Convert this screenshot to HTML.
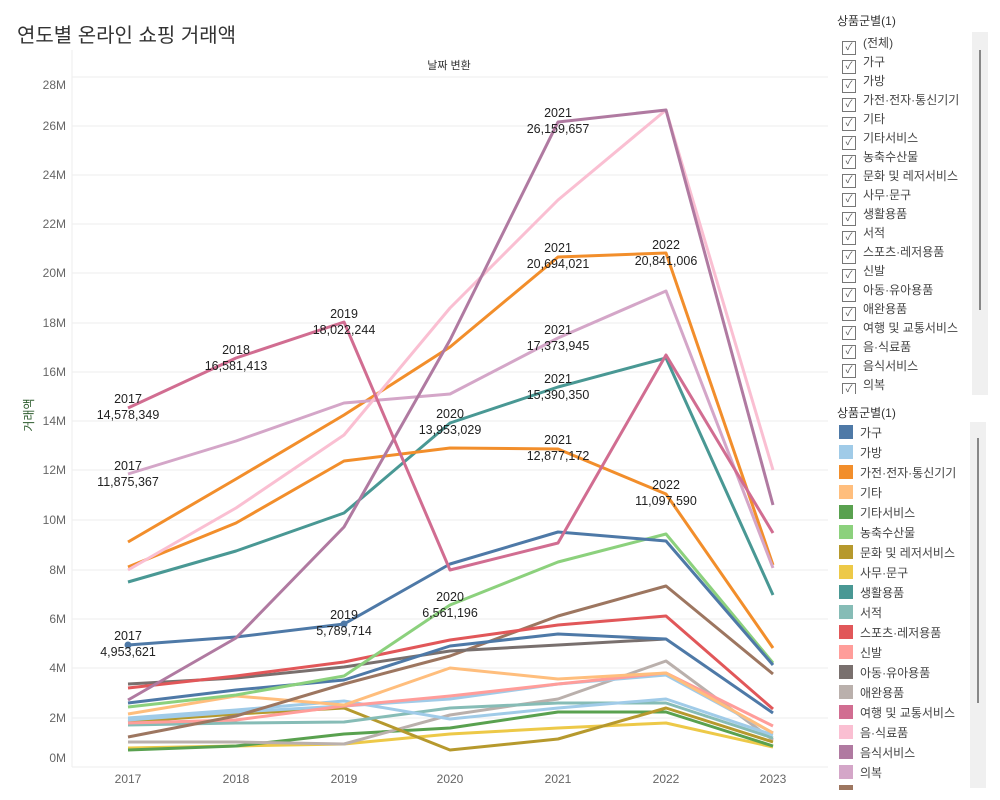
<!DOCTYPE html><html><head><meta charset="utf-8"><style>
body{margin:0;width:1000px;height:800px;background:#fff;font-family:"Liberation Sans","Noto Sans CJK KR",sans-serif;overflow:hidden;position:relative}
.t{position:absolute}
.lg{position:absolute;font-size:12px;color:#333}
.ci{height:19px;line-height:19px;font-size:12px;color:#444;white-space:nowrap}
.ci span{display:inline-block;width:12px;height:12px;border:1px solid #777;vertical-align:-3px;margin-right:7px;font-size:10px;line-height:12px;text-align:center;color:#555}
.si{height:20px;line-height:14px;font-size:12px;color:#444;white-space:nowrap}
.si span{display:inline-block;width:14px;height:14px;vertical-align:-2px;margin-right:7px}
</style></head><body>
<div class="t" style="left:17px;top:19px;font-size:20px;color:#333">연도별 온라인 쇼핑 거래액</div>
<svg class="t" style="left:0;top:0" width="830" height="800" font-family="Liberation Sans, Noto Sans CJK KR, sans-serif">
<text x="449" y="69" font-size="11" text-anchor="middle" fill="#333">날짜 변환</text>
<text transform="translate(33,415) rotate(-90)" font-size="12" text-anchor="middle" fill="#2c5b2c">거래액</text>
<g stroke="#eee" stroke-width="1">
<line x1="72" y1="77" x2="828" y2="77"/><line x1="72" y1="126" x2="828" y2="126"/><line x1="72" y1="175" x2="828" y2="175"/><line x1="72" y1="224" x2="828" y2="224"/><line x1="72" y1="273" x2="828" y2="273"/><line x1="72" y1="323" x2="828" y2="323"/><line x1="72" y1="372" x2="828" y2="372"/><line x1="72" y1="421" x2="828" y2="421"/><line x1="72" y1="470" x2="828" y2="470"/><line x1="72" y1="520" x2="828" y2="520"/><line x1="72" y1="570" x2="828" y2="570"/><line x1="72" y1="619" x2="828" y2="619"/><line x1="72" y1="668" x2="828" y2="668"/><line x1="72" y1="718" x2="828" y2="718"/><line x1="72" y1="767" x2="828" y2="767"/>
<line x1="72" y1="50" x2="72" y2="767"/>
</g>
<g font-size="12" fill="#666" text-anchor="end">
<text x="66" y="89">28M</text><text x="66" y="130">26M</text><text x="66" y="179">24M</text><text x="66" y="228">22M</text><text x="66" y="277">20M</text><text x="66" y="327">18M</text><text x="66" y="376">16M</text><text x="66" y="425">14M</text><text x="66" y="474">12M</text><text x="66" y="524">10M</text><text x="66" y="574">8M</text><text x="66" y="623">6M</text><text x="66" y="672">4M</text><text x="66" y="722">2M</text><text x="66" y="762">0M</text>
</g>
<g font-size="12" fill="#666" text-anchor="middle">
<text x="128" y="783">2017</text><text x="236" y="783">2018</text><text x="344" y="783">2019</text><text x="450" y="783">2020</text><text x="558" y="783">2021</text><text x="666" y="783">2022</text><text x="773" y="783">2023</text>
</g>
<g fill="none" stroke-width="3" stroke-linejoin="round">
<polyline stroke="#edc948" points="128,748 236,746 344,744 450,734 558,728 666,723 773,747"/>
<polyline stroke="#59a14f" points="128,750 236,746 344,734 450,728 558,712 666,712 773,746"/>
<polyline stroke="#bab0ac" points="128,742 236,742 344,744 450,715 558,699 666,661 773,740"/>
<polyline stroke="#b6992d" points="128,722 236,714 344,708 450,750 558,739 666,708 773,742"/>
<polyline stroke="#86bcb6" points="128,725 236,723 344,722 450,708 558,703 666,703 773,738"/>
<polyline stroke="#a0cbe8" points="128,718 236,710 344,701 450,719 558,708 666,699 773,735"/>
<polyline stroke="#a0cbe8" points="128,720 236,712 344,706 450,699 558,684 666,675 773,733"/>
<polyline stroke="#ff9d9a" points="128,723 236,720 344,706 450,696 558,684 666,673 773,726"/>
<polyline stroke="#ffbe7d" points="128,714 236,696 344,705 450,668 558,679 666,673 773,733"/>
<polyline stroke="#9d7660" points="128,737 236,716 344,684 450,656 558,616 666,586 773,674"/>
<polyline stroke="#79706e" points="128,684 236,678 344,667 450,651 558,645 666,639"/>
<polyline stroke="#e15759" points="128,688 236,676 344,662 450,640 558,625 666,616 773,709"/>
<polyline stroke="#4e79a7" points="128,703 236,690 344,680 450,646 558,634 666,639 773,713"/>
<polyline stroke="#8cd17d" points="128,707 236,695 344,676 450,605 558,562 666,534 773,663"/>
<polyline stroke="#4e79a7" points="128,645 236,637 344,624 450,564 558,532 666,541 773,665"/>
<polyline stroke="#499894" points="128,582 236,551 344,513 450,423 558,387 666,358 773,595"/>
<polyline stroke="#f28e2b" points="128,567 236,523 344,461 450,448 558,449 666,494 773,648"/>
<polyline stroke="#f28e2b" points="128,542 236,479 344,415 450,347 558,257 666,253 773,565"/>
<polyline stroke="#d4a6c8" points="128,474 236,441 344,403 450,394 558,338 666,291 773,568"/>
<polyline stroke="#fabfd2" points="128,570 236,508 344,435 450,308 558,200 666,110 773,470"/>
<polyline stroke="#b07aa1" points="128,700 236,638 344,527 450,340 558,122 666,110 773,505"/>
<polyline stroke="#d16d91" points="128,408 236,358 344,322 450,570 558,543 666,355 773,533"/>
</g>
<g fill="#4e79a7"><circle cx="128" cy="645" r="3.5"/><circle cx="344" cy="624" r="3.5"/></g>
<g font-size="12.5" fill="#222" text-anchor="middle">
<text x="128" y="403">2017</text><text x="128" y="419">14,578,349</text>
<text x="236" y="354">2018</text><text x="236" y="370">16,581,413</text>
<text x="344" y="318">2019</text><text x="344" y="334">18,022,244</text>
<text x="558" y="117">2021</text><text x="558" y="133">26,159,657</text>
<text x="558" y="252">2021</text><text x="558" y="268">20,694,021</text>
<text x="666" y="249">2022</text><text x="666" y="265">20,841,006</text>
<text x="558" y="334">2021</text><text x="558" y="350">17,373,945</text>
<text x="558" y="383">2021</text><text x="558" y="399">15,390,350</text>
<text x="450" y="418">2020</text><text x="450" y="434">13,953,029</text>
<text x="128" y="470">2017</text><text x="128" y="486">11,875,367</text>
<text x="558" y="444">2021</text><text x="558" y="460">12,877,172</text>
<text x="666" y="489">2022</text><text x="666" y="505">11,097,590</text>
<text x="450" y="601">2020</text><text x="450" y="617">6,561,196</text>
<text x="344" y="619">2019</text><text x="344" y="635">5,789,714</text>
<text x="128" y="640">2017</text><text x="128" y="656">4,953,621</text>
</g>
</svg>
<div class="lg" style="left:837px;top:12px">상품군별(1)</div>
<div class="t" style="left:972px;top:32px;width:16px;height:363px;background:#f0f0f0"></div>
<div class="t" style="left:979px;top:50px;width:2px;height:260px;background:#888"></div>
<div class="t" id="cb" style="left:842px;top:34px;height:360px;overflow:hidden;width:128px"></div>
<div class="lg" style="left:837px;top:404px">상품군별(1)</div>
<div class="t" style="left:970px;top:422px;width:16px;height:366px;background:#f0f0f0"></div>
<div class="t" style="left:977px;top:438px;width:2px;height:265px;background:#888"></div>
<div class="t" id="sw" style="left:839px;top:425px;height:365px;overflow:hidden"></div>
<script>
var n=["가구","가방","가전·전자·통신기기","기타","기타서비스","농축수산물","문화 및 레저서비스","사무·문구","생활용품","서적","스포츠·레저용품","신발","아동·유아용품","애완용품","여행 및 교통서비스","음·식료품","음식서비스","의복"];
var c=["#4e79a7","#a0cbe8","#f28e2b","#ffbe7d","#59a14f","#8cd17d","#b6992d","#edc948","#499894","#86bcb6","#e15759","#ff9d9a","#79706e","#bab0ac","#d16d91","#fabfd2","#b07aa1","#d4a6c8"];
var h='<div class="ci"><span>✓</span>(전체)</div>';n.forEach(function(s){h+='<div class="ci"><span>✓</span>'+s+'</div>'});
document.getElementById("cb").innerHTML=h;
h="";n.forEach(function(s,i){h+='<div class="si"><span style="background:'+c[i]+'"></span>'+s+'</div>'});
h+='<div style="width:14px;height:6px;background:#9d7660"></div>';
document.getElementById("sw").innerHTML=h;
</script>
</body></html>
